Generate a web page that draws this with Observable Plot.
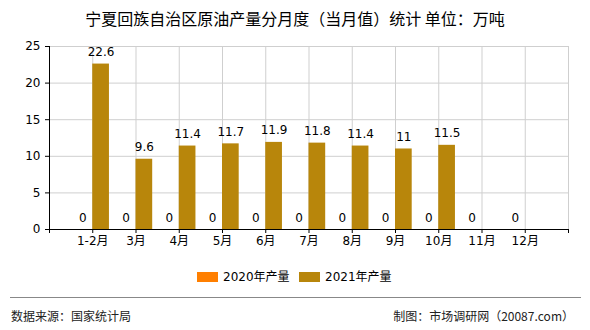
<!DOCTYPE html>
<html>
<head>
<meta charset="utf-8">
<script src="https://cdn.jsdelivr.net/npm/d3@7"></script>
<script src="https://cdn.jsdelivr.net/npm/@observablehq/plot@0.6"></script>
<style>
  html, body { margin: 0; padding: 0; background: #fff; }
  body { width: 590px; height: 330px; position: relative; overflow: hidden;
         font-family: "DejaVu Sans", "Noto Sans CJK SC", sans-serif; color: #000; }
  #title { position: absolute; top: 8px; left: 0; width: 590px; text-align: center;
           font-size: 16px; line-height: 20px; font-family: "Noto Sans CJK SC", sans-serif; }
  #chart { position: absolute; top: 32px; left: 0; }
  .leg { position: absolute; top: 270px; font-size: 12px; line-height: 14px; display: flex; align-items: center; }
  .sw { width: 21px; height: 10px; margin-right: 5px; }
  #rule { position: absolute; top: 297px; left: 10px; width: 571px; border-top: 1px solid #888; }
  .foot { position: absolute; top: 309px; font-size: 12px; line-height: 14px; color: #222; font-family: "Noto Sans CJK SC", sans-serif; }
</style>
</head>
<body>
<div id="title">宁夏回族自治区原油产量分月度（当月值）统计 单位：万吨</div>
<div id="chart"></div>
<div class="leg" style="left:197px"><div class="sw" style="background:#FF7F00"></div>2020年产量</div>
<div class="leg" style="left:299px"><div class="sw" style="background:#B8860B"></div>2021年产量</div>
<div id="rule"></div>
<div class="foot" style="left:11px">数据来源：国家统计局</div>
<div class="foot" style="right:16px">制图：市场调研网（20087.com）</div>
<script>
const months = ["1-2月","3月","4月","5月","6月","7月","8月","9月","10月","11月","12月"];
const y2020 = [0,0,0,0,0,0,0,0,0,0,0];
const y2021 = [22.6,9.6,11.4,11.7,11.9,11.8,11.4,11,11.5,null,null];
const yTicks = [0,5,10,15,20,25];
const series = ["2020年产量","2021年产量"];
const colors = ["#FF7F00","#B8860B"];

const rows = months.map((m, i) => ({month: m, pos: i + 1, v20: y2020[i], v21: y2021[i]}));
const xEdges = d3.range(0, months.length + 2);
const bw = 0.386;

const plot = Plot.plot({
  width: 590, height: 220,
  marginLeft: 49, marginRight: 22, marginTop: 14, marginBottom: 23,
  style: {fontSize: "12px", fontFamily: "DejaVu Sans, Noto Sans CJK SC, sans-serif", color: "#000", background: "transparent"},
  x: {type: "linear", domain: [0, months.length + 1], axis: null},
  y: {domain: [0, 25], axis: null},
  marks: [
    Plot.ruleY(yTicks.filter(t => t > 0), {stroke: "#cfcfcf", strokeOpacity: 1}),
    Plot.ruleX(xEdges.filter(t => t > 0), {y1: 0, y2: 25, stroke: "#cfcfcf", strokeOpacity: 1}),
    Plot.rectY(rows, {x1: d => d.pos - bw, x2: d => d.pos, y1: 0, y2: "v20", fill: colors[0]}),
    Plot.rectY(rows.filter(d => d.v21 != null), {x1: d => d.pos, x2: d => d.pos + bw, y1: 0, y2: "v21", fill: colors[1]}),
    Plot.text(rows, {x: d => d.pos - 0.23, y: "v20", text: d => String(d.v20), dy: -8, lineAnchor: "bottom", fill: "#000"}),
    Plot.text(rows.filter(d => d.v21 != null), {x: d => d.pos + bw / 2, y: "v21", text: d => String(d.v21), dy: -8, lineAnchor: "bottom", fill: "#000"}),
    Plot.ruleY([0], {stroke: "#000"}),
    Plot.ruleX([0], {y1: 0, y2: 25, stroke: "#000"}),
    Plot.axisY(yTicks, {tickSize: 4, tickPadding: 5, stroke: "#000", fill: "#000", label: null}),
    Plot.axisX(xEdges, {tickSize: 4, tickPadding: 3, stroke: "#000", fill: "#000", label: null,
      tickFormat: d => (d >= 1 && d <= months.length) ? months[d - 1] : ""})
  ]
});
document.getElementById("chart").appendChild(plot);
</script>
</body>
</html>
